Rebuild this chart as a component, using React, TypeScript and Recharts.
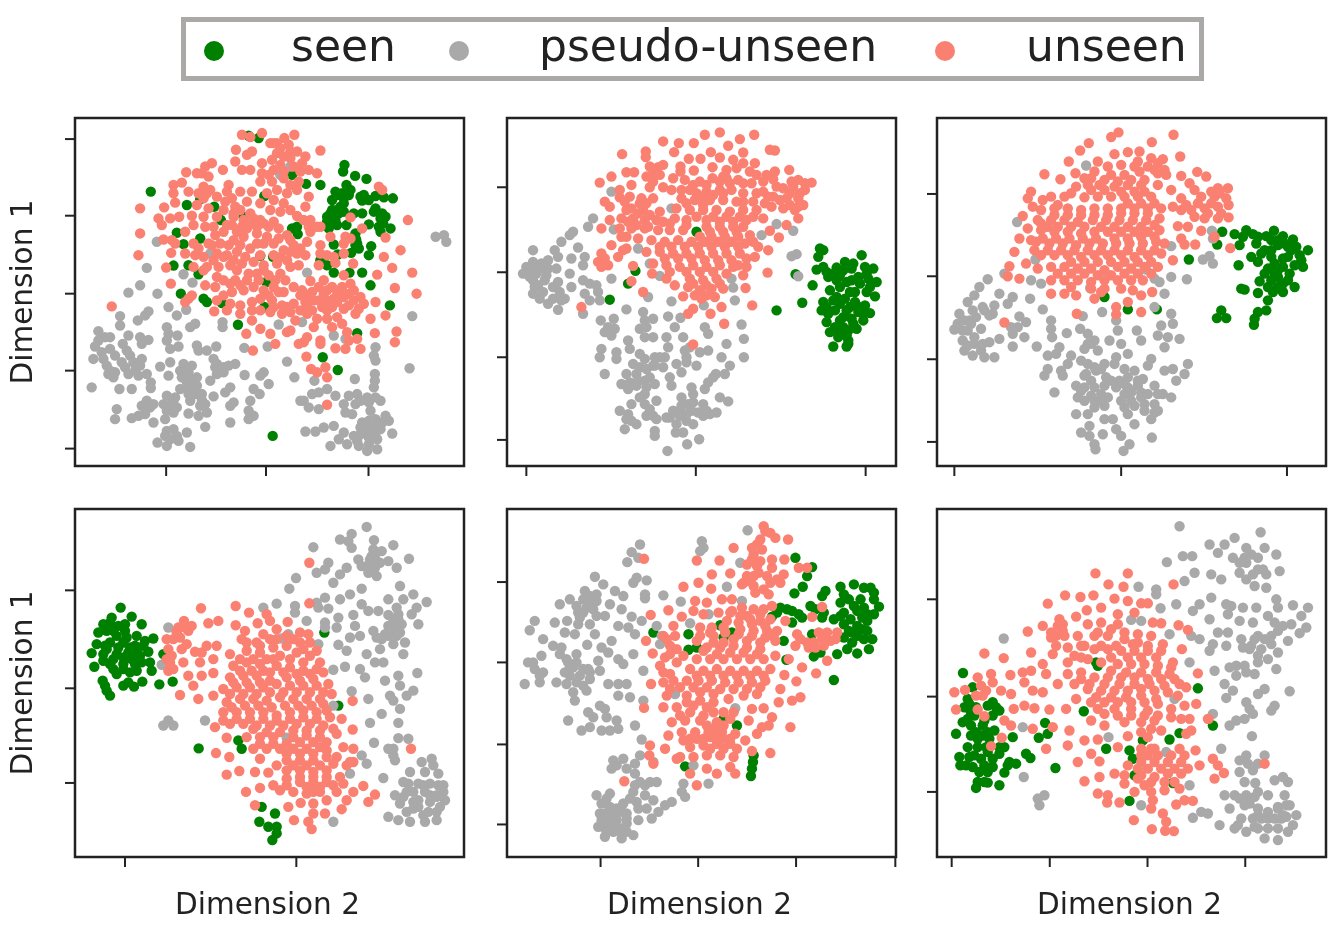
import { ScatterChart, Scatter, XAxis, YAxis, ZAxis, ReferenceArea } from 'recharts';

type Pair = [number, number];

// no scale is printed on the axes, so values are in units read off the picture
const seen1: Pair[] = [[272,245],[380,285],[350,368],[370,402],[340,466],[385,465],[415,492],[362,550],[430,565],[440,575],[485,578],[533,643],[637,975],[787,740],[832,778],[890,668],[988,585],[930,525],[905,487],[867,487],[820,487],[780,450],[800,465],[832,433],[872,428],[925,435],[895,415],[932,408],[820,403],[885,370],[887,388],[990,355],[960,365],[968,340],[975,320],[905,310],[925,343],[858,345],[945,295],[910,255],[905,272],[945,258],[970,262],[997,265],[918,207],[884,198],[852,165],[848,185],[858,225],[825,245],[815,270],[850,265],[865,255],[840,290],[815,300],[800,320],[820,320],[835,310],[812,340],[805,355],[710,350],[695,355],[712,372],[780,225],[737,222],[695,195],[612,258],[482,330],[638,440],[600,437],[618,515],[612,590],[595,85],[565,78],[420,268],[462,290],[550,320],[420,385],[830,255],[850,280],[870,240],[825,330],[830,345],[800,335],[810,310],[850,305],[880,310],[900,260],[925,270],[960,325],[955,350],[965,310],[940,305],[885,405],[890,400],[880,380],[830,300],[845,250]];
const pseudo1: Pair[] = [[1125,380],[1150,375],[1157,395],[290,395],[260,473],[240,525],[205,547],[292,550],[370,492],[397,517],[325,590],[378,598],[350,615],[265,603],[255,615],[233,630],[180,617],[180,645],[115,662],[135,680],[150,680],[205,675],[240,680],[265,688],[245,700],[188,700],[105,708],[125,725],[100,745],[130,745],[165,735],[140,765],[210,735],[220,755],[240,765],[195,770],[165,785],[160,800],[205,790],[235,795],[260,790],[272,815],[272,832],[178,835],[215,835],[95,830],[320,650],[325,670],[352,675],[320,690],[330,715],[355,708],[405,640],[390,650],[410,705],[415,720],[440,720],[468,708],[487,635],[487,650],[552,712],[622,708],[655,642],[300,768],[330,755],[325,795],[360,780],[395,765],[370,760],[365,800],[395,805],[410,825],[385,830],[360,835],[405,850],[425,868],[390,870],[460,745],[465,770],[490,770],[525,760],[505,765],[470,790],[450,810],[553,793],[610,785],[600,795],[625,820],[510,830],[495,845],[520,875],[510,885],[580,835],[598,850],[570,870],[565,900],[580,915],[565,925],[510,935],[460,857],[435,880],[440,905],[415,915],[385,908],[435,948],[320,855],[340,870],[350,890],[320,900],[315,925],[280,935],[260,870],[245,885],[270,890],[170,895],[165,925],[215,922],[235,915],[320,960],[350,975],[380,965],[355,990],[330,985],[292,995],[320,1005],[390,1008],[680,753],[702,800],[762,810],[883,805],[945,710],[940,735],[945,750],[943,790],[943,810],[1047,773],[1055,617],[820,675],[855,685],[740,487],[660,195],[690,170],[450,430],[725,635],[940,830],[960,870],[920,860],[890,850],[865,855],[850,880],[855,905],[875,910],[800,835],[775,845],[755,850],[730,870],[720,870],[745,890],[775,895],[825,855],[735,962],[765,962],[790,950],[820,945],[850,965],[835,985],[810,1005],[860,1000],[890,990],[915,965],[930,950],[905,935],[945,925],[985,930],[960,955],[995,968],[950,985],[925,1000],[895,1005],[920,1020],[950,1015],[150,715],[185,755],[225,780],[150,780],[245,745],[200,720],[385,785],[410,800],[380,815],[405,830],[425,850],[345,860],[330,885],[340,905],[310,880],[385,850],[420,885],[340,955],[315,975],[930,900],[945,860],[925,930],[915,945],[945,965],[965,935],[900,970],[880,975],[925,980],[900,950],[975,915],[940,940],[885,880],[900,870],[925,875],[470,760],[490,785],[280,880],[255,910],[145,790],[115,690]];
const unseen1: Pair[] = [[545,75],[570,82],[605,70],[630,100],[650,100],[672,85],[702,75],[685,105],[660,115],[690,125],[670,140],[710,125],[780,122],[527,120],[575,125],[560,135],[525,155],[605,160],[635,150],[660,165],[735,140],[725,160],[640,180],[700,170],[745,180],[770,190],[670,185],[545,180],[570,180],[605,190],[455,160],[435,170],[378,187],[410,190],[425,190],[488,180],[445,200],[340,225],[365,218],[385,245],[430,230],[450,240],[505,225],[540,245],[575,245],[635,215],[650,240],[715,215],[710,240],[745,260],[680,250],[560,275],[600,280],[670,280],[340,250],[345,278],[312,292],[240,295],[295,325],[305,345],[330,325],[357,320],[395,317],[410,285],[445,295],[430,320],[495,275],[515,265],[525,290],[490,300],[540,300],[570,310],[630,300],[660,305],[690,300],[735,290],[750,330],[710,318],[240,370],[235,435],[310,388],[335,390],[333,428],[318,472],[332,520],[375,430],[400,400],[415,415],[435,350],[460,350],[490,365],[515,345],[545,350],[575,340],[600,330],[625,350],[655,355],[680,375],[590,370],[550,380],[520,390],[480,400],[445,400],[430,440],[405,435],[470,430],[500,435],[530,425],[570,415],[610,400],[640,400],[670,420],[700,405],[740,395],[735,435],[710,430],[680,450],[650,460],[610,465],[580,455],[545,460],[510,465],[475,470],[440,470],[435,525],[465,530],[490,510],[525,510],[560,510],[590,490],[625,495],[660,490],[690,470],[715,465],[750,512],[640,530],[610,540],[580,530],[550,540],[515,545],[490,555],[470,570],[510,580],[540,585],[575,575],[600,565],[635,570],[670,545],[700,530],[725,540],[755,545],[790,510],[815,530],[850,495],[880,540],[845,530],[790,550],[820,565],[850,560],[880,570],[910,580],[945,575],[760,570],[735,575],[720,600],[755,600],[785,590],[815,590],[850,595],[885,610],[930,625],[975,615],[1003,533],[1068,550],[1055,487],[950,493],[995,473],[970,440],[1020,420],[975,382],[1042,330],[955,230],[965,240],[878,460],[855,380],[850,400],[905,355],[870,322],[810,380],[780,405],[780,430],[825,458],[775,465],[155,588],[385,565],[375,575],[395,555],[462,603],[575,630],[600,655],[630,605],[665,610],[690,605],[705,630],[740,610],[770,625],[800,625],[830,620],[860,665],[890,685],[900,715],[865,690],[855,715],[825,713],[780,690],[780,700],[740,680],[730,695],[715,700],[680,665],[690,660],[630,670],[558,670],[645,700],[578,720],[738,738],[752,775],[770,785],[795,770],[800,800],[800,882],[1008,663],[1003,695],[943,668],[520,320],[550,330],[580,325],[610,340],[640,335],[560,355],[590,350],[530,365],[500,345],[465,375],[505,405],[540,405],[590,400],[620,380],[655,385],[690,390],[720,415],[455,405],[490,440],[520,450],[555,440],[600,435],[640,435],[690,425],[660,440],[460,450],[530,480],[565,490],[610,480],[645,510],[675,510],[510,520],[540,525],[595,510],[625,555],[655,545],[600,600],[640,590],[665,585],[575,600],[540,610],[500,600],[720,555],[740,555],[775,530],[800,570],[830,545],[865,550],[870,520],[900,560],[775,570],[800,600],[830,575],[865,585],[895,595],[740,590],[800,540],[760,650],[815,650],[845,640],[700,580],[680,590],[440,250],[470,260],[500,245],[520,310],[470,320],[400,345],[375,365],[345,400],[430,265],[415,250],[620,250],[640,270],[690,225],[670,205],[625,195],[600,215],[690,145],[650,130],[640,100],[720,185],[730,330],[780,350],[770,350],[750,365],[745,350],[800,435],[850,430],[870,385],[820,440],[430,480],[470,500],[400,470]];

const seen2: Pair[] = [[620,365],[437,482],[415,520],[360,568],[860,600],[937,577],[917,492],[968,525],[990,415],[985,440],[980,478],[1000,470],[1115,435],[1065,455],[1040,472],[1015,500],[1050,495],[1085,475],[1125,470],[1150,475],[1105,500],[1135,505],[1160,515],[1020,540],[1070,515],[1050,530],[1095,545],[1130,545],[1155,558],[1000,575],[1030,570],[1065,565],[1095,575],[1125,585],[995,600],[1035,600],[1070,600],[1105,605],[1140,608],[1010,635],[1050,630],[1085,625],[1120,630],[1020,665],[1060,650],[1100,655],[1045,680],[1075,690],[1030,708],[1070,708],[1000,420],[1010,485],[1030,490],[1060,480],[1090,460],[1110,520],[1140,530],[1085,510],[1040,560],[1080,590],[1050,580],[1010,590],[1120,610],[1060,620],[1035,650],[1075,660],[1090,640],[1040,510],[1130,490],[1080,545],[1100,585],[1015,610],[1050,665],[1070,675],[1075,700]];
const pseudo2: Pair[] = [[130,420],[365,245],[545,295],[310,325],[295,350],[372,358],[250,365],[240,375],[215,395],[265,412],[195,420],[205,440],[285,440],[245,445],[130,455],[155,460],[110,470],[175,475],[200,475],[280,465],[100,490],[140,490],[240,490],[165,510],[130,510],[205,515],[280,510],[300,520],[320,525],[245,530],[130,550],[160,545],[210,545],[285,550],[325,545],[150,565],[175,580],[225,565],[300,570],[330,570],[205,598],[365,505],[280,610],[475,560],[410,597],[545,573],[510,497],[445,415],[480,460],[725,505],[730,532],[735,570],[642,585],[860,342],[910,362],[815,375],[905,438],[920,432],[925,498],[755,642],[762,685],[762,740],[535,618],[572,622],[555,650],[645,650],[655,670],[710,700],[695,740],[720,765],[705,790],[678,790],[655,815],[645,835],[605,830],[690,860],[715,872],[660,910],[680,905],[640,915],[628,985],[592,1000],[533,1020],[495,975],[495,960],[580,965],[558,965],[610,940],[540,920],[570,900],[595,880],[575,860],[610,875],[490,915],[470,915],[500,925],[440,940],[405,955],[415,910],[425,880],[390,900],[465,880],[500,870],[465,850],[440,825],[395,820],[420,815],[465,810],[495,820],[440,790],[410,790],[430,760],[465,745],[495,740],[525,740],[560,760],[590,740],[620,765],[655,720],[630,725],[600,710],[580,680],[530,680],[535,710],[575,785],[540,800],[545,825],[335,715],[330,740],[380,725],[380,745],[345,790],[333,630],[372,625],[345,665],[375,655],[415,690],[420,715],[460,605],[465,630],[490,625],[450,655],[490,680],[465,680],[530,920],[590,910],[625,905],[130,480],[150,475],[170,495],[120,500],[145,525],[135,530],[190,565],[215,570],[190,530],[450,770],[470,775],[490,765],[445,810],[470,830],[480,800],[415,835],[450,860],[480,895],[425,930],[410,925],[550,900],[575,885],[605,900],[590,930],[560,940],[610,850],[570,915],[640,880],[650,900],[450,730],[520,770],[495,765],[355,650],[365,675],[470,650],[510,740],[585,720],[590,755],[670,800],[175,450]];
const unseen2: Pair[] = [[645,75],[690,68],[793,75],[520,95],[567,100],[612,100],[715,108],[750,88],[840,120],[855,122],[397,133],[468,125],[468,142],[553,127],[663,127],[760,128],[597,147],[632,147],[690,143],[730,150],[760,160],[795,160],[520,165],[490,180],[505,172],[572,170],[572,185],[612,182],[668,172],[710,180],[740,175],[780,185],[800,195],[855,185],[898,180],[410,187],[433,187],[470,200],[495,195],[550,205],[585,210],[630,215],[668,205],[710,205],[745,210],[785,220],[820,215],[850,208],[925,210],[965,218],[330,218],[365,200],[425,225],[480,232],[520,232],[545,240],[600,240],[650,245],[690,240],[725,240],[760,250],[880,235],[910,230],[945,240],[390,240],[390,262],[345,275],[360,290],[420,260],[455,265],[490,265],[575,265],[615,270],[660,270],[700,270],[740,275],[820,245],[850,260],[890,265],[925,265],[940,285],[425,295],[460,300],[510,305],[560,295],[600,300],[640,300],[680,300],[720,305],[760,300],[800,300],[845,290],[880,295],[915,300],[925,325],[335,355],[360,330],[395,325],[430,325],[465,330],[520,335],[555,325],[590,330],[650,330],[690,335],[730,335],[770,330],[820,325],[890,345],[840,362],[867,382],[390,355],[425,355],[465,355],[505,360],[540,360],[580,360],[660,365],[700,365],[740,365],[780,375],[410,380],[365,405],[445,385],[485,390],[525,395],[565,390],[605,395],[645,395],[685,395],[725,395],[765,400],[805,410],[835,420],[400,420],[410,415],[385,440],[335,430],[325,455],[355,465],[470,425],[510,425],[550,430],[590,430],[630,430],[670,430],[710,430],[750,430],[795,440],[430,467],[425,513],[487,490],[460,545],[490,460],[530,465],[570,470],[610,465],[650,470],[690,465],[730,470],[770,470],[833,487],[530,505],[555,525],[600,505],[640,510],[680,505],[760,495],[767,533],[595,530],[630,540],[665,535],[700,535],[580,558],[635,565],[675,560],[275,590],[610,595],[595,610],[662,610],[695,590],[787,585],[703,640],[610,702],[410,300],[445,310],[480,315],[440,345],[415,335],[475,350],[500,330],[450,280],[470,280],[405,275],[620,250],[640,285],[670,255],[700,250],[640,260],[590,280],[620,320],[670,320],[710,320],[750,320],[790,320],[650,350],[690,350],[730,350],[760,350],[590,345],[540,340],[630,380],[665,380],[705,380],[745,380],[790,395],[545,410],[585,410],[625,410],[665,410],[705,410],[745,410],[510,410],[525,445],[565,445],[605,445],[645,450],[685,450],[725,450],[770,445],[540,485],[590,485],[630,485],[670,485],[710,490],[745,465],[610,520],[650,525],[690,520],[650,555],[615,555],[860,230],[835,260],[900,250],[930,250],[900,285],[870,270],[925,290],[905,215],[945,220],[830,195],[760,220],[800,250],[790,275],[760,275],[825,280],[690,215],[650,225],[610,225],[575,240],[700,200],[720,220],[395,380],[345,445],[335,470],[490,215],[510,195],[480,170]];

const seen3: Pair[] = [[540,560],[610,597],[697,597],[893,365],[878,403],[930,372],[965,360],[985,372],[945,405],[995,400],[1025,378],[1048,362],[1075,378],[1105,388],[1020,420],[1060,405],[1090,410],[1150,420],[1125,435],[980,440],[1000,455],[1040,440],[1075,445],[1110,465],[1135,470],[942,465],[1030,475],[1060,480],[1095,490],[1040,510],[1005,513],[1075,520],[1110,530],[950,535],[960,538],[1000,548],[1045,545],[1075,545],[1030,570],[1025,600],[1000,605],[990,625],[988,643],[890,600],[877,623],[905,623],[793,448],[1060,390],[1080,400],[1100,420],[1040,420],[1010,430],[1050,460],[1090,440],[1130,450],[1020,490],[1060,500],[1090,510],[1100,400],[1115,410],[1075,470],[1050,490],[1030,530],[1060,530],[1040,390],[955,380],[1000,380]];
const pseudo3: Pair[] = [[485,167],[278,336],[333,448],[862,362],[865,385],[740,408],[835,448],[855,437],[865,460],[740,500],[787,507],[720,550],[665,478],[690,505],[705,515],[190,507],[165,530],[150,555],[130,575],[225,550],[265,560],[250,580],[210,585],[175,590],[145,600],[105,610],[285,618],[195,615],[135,630],[260,650],[305,635],[90,657],[130,660],[170,655],[300,680],[265,670],[225,685],[115,690],[150,700],[195,695],[265,708],[120,720],[170,720],[145,735],[180,740],[210,740],[240,490],[320,510],[350,520],[317,565],[355,597],[497,533],[533,605],[575,630],[475,617],[380,630],[380,655],[383,680],[337,708],[427,668],[467,655],[490,670],[510,690],[480,715],[520,720],[580,660],[555,690],[590,700],[610,730],[637,660],[650,690],[740,610],[745,640],[710,645],[700,675],[765,685],[720,710],[730,680],[405,710],[395,730],[370,735],[440,735],[470,750],[370,775],[360,795],[410,780],[415,795],[390,845],[575,740],[570,760],[540,760],[515,780],[480,795],[455,825],[500,810],[545,800],[600,775],[630,780],[655,805],[680,745],[670,765],[720,780],[745,775],[790,760],[780,790],[755,810],[690,825],[460,860],[500,855],[530,850],[575,830],[600,820],[620,845],[650,845],[590,870],[540,885],[510,890],[455,910],[490,910],[740,860],[715,850],[690,880],[660,880],[630,885],[700,900],[680,925],[610,910],[630,940],[540,925],[565,925],[575,955],[590,975],[495,945],[470,965],[495,975],[535,970],[510,1000],[513,1015],[615,1000],[597,1020],[682,980],[690,590],[140,640],[120,630],[155,620],[180,600],[205,610],[115,660],[100,640],[130,705],[150,680],[175,700],[280,650],[485,790],[510,770],[530,775],[480,830],[510,830],[540,825],[470,840],[610,800],[640,810],[600,850],[620,870],[650,860],[670,850],[640,825],[660,900],[510,870],[480,870],[550,860],[530,870],[490,700],[500,700],[585,810],[610,830],[560,810],[490,760],[430,760],[600,890],[690,905],[700,850]];
const unseen3: Pair[] = [[582,68],[560,82],[747,75],[682,97],[493,100],[467,122],[570,133],[610,127],[645,125],[767,140],[433,155],[520,155],[590,165],[640,155],[680,145],[715,148],[360,193],[408,208],[453,190],[510,185],[560,195],[600,195],[645,185],[690,180],[725,195],[770,198],[818,186],[845,200],[795,220],[455,230],[490,225],[525,225],[570,230],[610,225],[650,225],[700,225],[740,240],[810,240],[880,235],[910,235],[320,245],[310,265],[380,260],[420,260],[480,262],[520,260],[560,260],[600,260],[640,260],[680,260],[770,265],[830,260],[870,260],[905,265],[325,290],[350,300],[390,295],[430,295],[470,300],[510,295],[550,295],[590,295],[630,295],[670,295],[710,295],[745,290],[785,285],[840,295],[880,290],[912,285],[295,318],[340,330],[380,330],[420,330],[460,335],[505,330],[545,330],[585,330],[625,330],[665,330],[705,325],[810,320],[840,325],[880,325],[912,322],[310,355],[350,360],[390,365],[430,365],[470,370],[510,365],[550,365],[590,365],[630,365],[670,365],[705,360],[760,348],[790,350],[830,362],[870,380],[285,385],[335,395],[375,400],[415,400],[455,405],[495,400],[535,400],[575,400],[615,400],[655,400],[695,395],[770,385],[780,403],[812,403],[917,414],[270,425],[305,460],[350,435],[390,435],[430,435],[470,440],[510,435],[550,435],[590,435],[630,440],[670,435],[710,430],[745,450],[255,468],[250,498],[285,505],[340,475],[380,470],[420,470],[460,475],[500,475],[540,480],[580,470],[620,475],[660,470],[700,470],[380,510],[420,510],[460,510],[500,515],[540,510],[580,510],[620,510],[655,510],[380,550],[420,550],[455,555],[510,565],[530,545],[575,590],[650,555],[610,575],[683,545],[650,605],[575,612],[457,610],[240,636],[630,245],[660,245],[610,280],[650,280],[690,280],[670,310],[630,310],[590,310],[550,315],[510,315],[470,315],[430,315],[390,315],[350,340],[370,350],[400,350],[440,350],[480,350],[530,350],[570,350],[610,350],[650,350],[690,345],[690,380],[650,380],[610,385],[570,385],[515,385],[475,385],[435,385],[395,385],[355,385],[320,390],[330,420],[370,420],[410,420],[450,420],[490,420],[530,420],[570,420],[610,420],[650,420],[690,420],[720,400],[440,455],[480,455],[520,455],[560,455],[600,455],[640,455],[680,455],[400,490],[440,490],[480,490],[520,495],[560,495],[600,490],[640,490],[680,490],[500,535],[540,535],[440,530],[590,535],[625,540],[860,245],[885,250],[860,280],[890,310],[850,310],[820,280],[770,300],[800,300],[700,190],[660,210],[620,210],[580,215],[540,210],[500,205],[670,170],[700,160],[720,180],[630,170],[550,170],[480,205],[440,250],[400,285],[355,270],[500,240],[540,240],[590,245]];

const seen4: Pair[] = [[182,325],[155,355],[215,352],[245,375],[130,375],[115,400],[160,395],[195,395],[230,410],[280,418],[110,435],[150,430],[190,430],[225,440],[255,425],[95,462],[130,465],[170,465],[205,460],[240,470],[265,458],[310,465],[103,503],[150,495],[190,495],[225,495],[270,490],[170,525],[210,520],[275,515],[128,545],[135,560],[140,575],[150,590],[190,560],[205,550],[222,563],[247,548],[298,556],[338,548],[793,400],[835,620],[535,725],[545,750],[416,749],[605,925],[645,945],[598,970],[625,985],[650,985],[650,1005],[637,1025],[140,395],[175,380],[200,415],[170,410],[140,450],[175,445],[210,445],[150,370],[230,455],[190,475],[215,480],[160,480],[130,485],[135,440],[245,490],[250,440],[190,510],[230,515],[195,375],[160,510]];
const pseudo4: Pair[] = [[920,82],[875,103],[840,120],[865,125],[875,145],[942,122],[1000,137],[760,143],[940,150],[965,155],[1047,178],[895,180],[930,180],[985,185],[805,190],[770,220],[795,210],[1010,205],[860,205],[840,225],[925,220],[950,230],[708,236],[820,250],[905,268],[688,268],[1020,260],[1060,285],[870,285],[840,300],[795,295],[770,310],[650,313],[610,325],[985,300],[1030,300],[705,320],[705,340],[1100,308],[905,315],[775,325],[805,328],[1070,325],[925,335],[955,335],[1010,325],[1055,345],[880,347],[835,355],[985,347],[740,365],[795,370],[1075,375],[830,385],[885,380],[985,380],[325,385],[685,405],[665,418],[795,385],[940,395],[870,415],[900,410],[1025,375],[965,420],[835,437],[860,455],[775,435],[1000,435],[1035,430],[920,465],[960,450],[1030,465],[855,503],[820,512],[900,510],[945,490],[915,535],[970,490],[1072,522],[1015,530],[975,545],[1020,560],[875,577],[925,600],[990,590],[1060,575],[1040,590],[1000,605],[1020,630],[820,620],[965,645],[930,672],[1015,672],[325,665],[310,680],[340,680],[435,665],[680,717],[942,732],[1015,718],[1000,750],[905,770],[920,795],[1005,785],[1045,720],[1050,820],[1085,790],[1115,780],[1135,825],[970,838],[1030,850],[1075,855],[1135,860],[1005,890],[1040,880],[1095,880],[1150,880],[1020,915],[1060,910],[1110,910],[1155,905],[985,955],[1015,965],[1050,970],[1040,940],[1095,970],[1130,965],[1140,925],[820,970],[305,497],[870,825],[945,175],[960,190],[920,200],[945,205],[905,200],[1000,360],[1015,345],[1015,360],[975,405],[950,415],[985,410],[1000,405],[1020,400],[1090,860],[1110,855],[1110,890],[1130,895],[1075,905],[1060,930],[1130,890],[1150,860],[1095,820],[1120,800],[1030,895],[1060,880],[1045,855],[1105,940],[1090,950],[1075,925],[1130,940],[1000,770],[985,750],[925,205],[935,170],[1010,410],[1000,380]];
const unseen4: Pair[] = [[423,327],[527,320],[567,340],[620,345],[630,365],[372,365],[445,372],[475,365],[527,378],[593,372],[683,368],[355,385],[385,395],[555,395],[610,405],[650,390],[720,400],[745,405],[320,420],[360,415],[405,458],[440,440],[470,440],[545,420],[590,430],[630,420],[700,420],[325,450],[365,450],[510,465],[560,455],[600,460],[640,445],[680,440],[730,450],[770,455],[330,490],[370,490],[420,490],[460,480],[520,500],[560,490],[600,495],[640,480],[690,480],[730,490],[780,490],[325,515],[385,530],[425,530],[460,522],[510,535],[550,530],[590,530],[630,520],[670,520],[710,525],[750,525],[790,520],[400,560],[360,588],[415,600],[460,590],[490,570],[530,565],[570,565],[610,565],[650,555],[690,560],[730,560],[770,560],[805,555],[500,610],[540,600],[580,600],[620,605],[660,595],[700,600],[740,600],[780,600],[815,585],[878,606],[490,640],[530,640],[570,640],[610,640],[650,650],[690,640],[730,635],[770,640],[800,635],[465,685],[510,675],[550,675],[590,680],[630,680],[670,680],[710,675],[750,675],[790,680],[845,660],[878,692],[820,690],[500,717],[560,715],[600,715],[640,715],[700,715],[740,710],[780,715],[830,705],[580,750],[620,750],[660,750],[700,750],[740,750],[780,745],[850,745],[880,750],[468,763],[508,775],[600,780],[680,785],[720,785],[760,785],[800,775],[830,775],[860,800],[880,790],[650,800],[500,828],[538,817],[585,820],[625,822],[680,815],[720,815],[760,820],[800,815],[840,835],[640,860],[680,860],[720,850],[760,850],[800,850],[850,855],[558,880],[600,868],[660,875],[700,880],[740,885],[780,880],[830,880],[880,880],[910,862],[945,888],[925,910],[585,920],[685,925],[722,913],[760,915],[800,905],[860,905],[845,932],[760,945],[795,945],[702,965],[745,970],[755,992],[748,190],[748,312],[1053,750],[350,395],[375,385],[395,380],[340,420],[380,435],[425,460],[560,430],[600,440],[650,420],[680,410],[720,430],[750,430],[540,480],[580,480],[620,480],[660,470],[710,460],[750,470],[540,515],[575,515],[610,515],[650,500],[690,505],[730,515],[770,510],[520,550],[560,550],[600,550],[630,545],[680,535],[720,545],[760,540],[510,585],[550,585],[590,585],[630,580],[670,580],[710,580],[750,580],[790,580],[515,625],[555,620],[595,620],[635,625],[675,620],[715,620],[755,620],[790,615],[490,665],[530,660],[570,660],[610,660],[650,665],[690,660],[730,655],[770,660],[810,655],[580,690],[620,700],[660,700],[700,695],[740,695],[780,695],[600,735],[640,735],[680,735],[720,730],[760,730],[800,730],[680,765],[720,765],[760,765],[800,755],[700,800],[740,800],[780,800],[820,795],[760,835],[720,835],[800,835],[680,840],[740,865],[780,865],[820,860],[870,790],[335,470],[340,510],[320,480],[350,400],[760,880]];

const seen5: Pair[] = [[490,400],[595,405],[595,452],[620,445],[690,378],[725,400],[700,415],[740,680],[700,660],[585,803],[790,770],[788,790],[785,810],[782,832],[915,175],[965,203],[950,230],[937,262],[912,282],[1005,275],[995,290],[1050,262],[1090,255],[1120,265],[1150,280],[1110,300],[1150,300],[1165,322],[1050,310],[960,320],[870,325],[845,352],[905,335],[935,355],[995,355],[1060,340],[1100,335],[1150,345],[1130,365],[1060,375],[1100,380],[1030,360],[905,370],[1100,410],[1145,420],[1060,415],[965,405],[880,425],[1135,450],[1100,463],[1070,450],[1040,465],[970,472],[990,460],[1030,543],[888,482],[1075,300],[1090,320],[1120,325],[1130,345],[1080,360],[1115,355],[1115,390],[1085,400],[1130,395],[1075,395],[1120,420],[1085,430],[1140,265],[1060,285],[925,345],[890,330],[860,340],[1000,340],[1050,350],[975,330]];
const pseudo5: Pair[] = [[772,92],[450,135],[635,125],[640,145],[630,155],[425,158],[412,188],[445,175],[750,190],[315,232],[440,235],[470,243],[430,250],[340,255],[285,275],[375,275],[320,285],[400,290],[465,285],[465,297],[520,288],[572,307],[755,305],[710,262],[240,300],[210,315],[260,320],[300,310],[360,315],[395,330],[280,340],[320,350],[345,350],[425,352],[455,365],[655,345],[600,372],[135,365],[120,393],[195,370],[232,365],[265,375],[300,375],[385,380],[225,400],[255,405],[315,405],[415,385],[435,405],[500,380],[515,410],[510,435],[160,420],[190,440],[215,445],[292,437],[365,425],[335,445],[210,465],[260,465],[355,460],[430,465],[155,470],[115,490],[235,490],[325,485],[385,480],[400,495],[135,510],[160,520],[295,510],[330,515],[240,530],[270,530],[460,515],[105,555],[150,550],[200,550],[230,555],[300,540],[355,555],[385,555],[410,555],[250,580],[290,575],[385,590],[420,595],[460,605],[255,605],[330,620],[345,630],[295,640],[310,655],[235,665],[350,655],[380,665],[435,680],[275,695],[300,685],[335,695],[360,695],[385,690],[455,722],[450,770],[555,585],[735,628],[370,785],[400,780],[435,795],[365,810],[435,825],[490,790],[480,850],[500,850],[465,860],[580,855],[575,880],[585,895],[655,855],[610,800],[545,910],[525,920],[505,940],[320,890],[360,885],[430,880],[465,890],[490,905],[335,915],[400,915],[440,910],[470,930],[330,945],[370,945],[410,945],[445,965],[485,960],[340,985],[325,985],[375,985],[410,975],[430,1010],[345,1015],[395,1020],[370,1000],[280,300],[300,290],[320,305],[290,325],[265,340],[310,330],[270,355],[230,480],[260,490],[280,510],[250,505],[300,520],[260,550],[280,560],[240,505],[225,520],[130,490],[150,530],[360,925],[380,930],[395,940],[350,960],[380,965],[410,960],[360,975],[390,990],[350,1000],[410,1000],[395,1005],[335,965],[380,800],[410,810],[435,860],[450,850],[420,900],[445,930],[350,900],[345,945]];
const unseen5: Pair[] = [[820,80],[840,100],[810,120],[855,115],[893,120],[785,145],[730,145],[815,150],[620,183],[688,183],[462,178],[785,180],[810,185],[845,180],[882,180],[665,225],[720,222],[770,230],[805,220],[845,205],[880,225],[925,205],[950,205],[580,262],[625,250],[663,268],[755,255],[790,260],[840,250],[870,250],[795,280],[835,285],[615,305],[650,310],[695,300],[725,300],[755,325],[845,320],[535,333],[482,347],[575,352],[610,335],[640,345],[685,340],[725,335],[770,350],[810,345],[995,323],[965,353],[885,365],[550,380],[630,385],[665,385],[710,365],[745,370],[785,375],[825,380],[860,395],[520,410],[555,410],[630,410],[670,410],[705,400],[745,405],[785,410],[825,415],[855,425],[468,425],[920,405],[930,420],[985,400],[1010,400],[1035,420],[915,440],[955,445],[1000,440],[540,440],[580,470],[650,445],[690,445],[730,440],[770,445],[810,450],[488,463],[525,475],[560,490],[620,480],[660,480],[700,480],[740,480],[780,480],[820,480],[855,470],[895,480],[935,505],[1010,485],[510,500],[600,510],[640,515],[680,510],[720,515],[760,515],[800,515],[840,510],[882,528],[977,523],[483,555],[520,550],[550,545],[590,545],[625,545],[665,545],[705,550],[745,550],[785,550],[825,545],[918,547],[530,590],[590,590],[630,580],[670,585],[715,600],[760,590],[800,585],[870,570],[930,595],[905,605],[462,627],[520,625],[560,625],[610,620],[650,625],[700,640],[785,630],[820,628],[865,610],[545,670],[585,665],[630,665],[680,670],[720,660],[775,665],[845,655],[535,710],[575,700],[615,700],[655,700],[695,700],[735,705],[815,685],[835,680],[900,685],[480,740],[525,750],[560,780],[600,745],[640,740],[680,735],[720,735],[765,725],[800,705],[478,770],[490,795],[570,775],[610,775],[650,770],[690,770],[730,775],[785,757],[840,763],[600,825],[650,810],[680,825],[720,805],[735,825],[620,860],[403,848],[825,95],[800,135],[790,165],[770,195],[800,200],[760,250],[780,245],[790,230],[820,270],[830,230],[860,240],[720,340],[750,350],[790,330],[820,330],[780,360],[810,365],[840,360],[750,390],[790,395],[830,395],[700,385],[660,400],[730,420],[770,425],[810,430],[850,410],[700,430],[670,430],[620,425],[640,455],[680,465],[720,460],[760,460],[800,465],[540,465],[560,450],[530,420],[520,520],[540,525],[620,530],[660,530],[700,530],[740,530],[780,530],[820,530],[570,565],[610,565],[650,565],[690,570],[730,570],[770,570],[810,565],[540,570],[590,610],[630,605],[670,610],[730,640],[570,650],[600,640],[640,650],[670,640],[700,680],[680,700],[660,715],[700,720],[640,720],[620,720],[680,715],[720,720],[660,750],[700,750],[740,750],[600,720],[580,725],[670,690],[650,680],[690,690],[1020,425],[995,420],[970,430],[975,445],[950,430],[1040,400]];

const seen6: Pair[] = [[116,522],[145,565],[130,600],[120,625],[205,610],[225,635],[155,625],[205,650],[115,670],[95,705],[140,680],[175,680],[210,695],[130,745],[160,720],[195,720],[265,715],[240,745],[105,775],[150,770],[190,760],[225,765],[108,800],[145,805],[180,800],[205,805],[255,790],[275,795],[240,822],[160,850],[190,852],[225,860],[155,868],[305,765],[318,778],[393,808],[343,717],[370,705],[362,672],[515,490],[520,500],[478,637],[545,750],[615,755],[625,780],[630,830],[655,725],[735,722],[765,703],[745,853],[615,907],[820,568],[865,680],[130,625],[140,640],[130,660],[150,650],[190,620],[215,625],[155,700],[175,710],[140,710],[160,745],[185,745],[135,775],[170,780],[205,780],[125,800],[165,820],[190,820],[225,745],[135,615],[190,700],[180,665],[250,800],[180,850]];
const pseudo6: Pair[] = [[765,80],[1008,98],[930,115],[855,135],[900,135],[965,145],[1020,145],[880,160],[925,175],[1055,165],[775,170],[803,170],[727,188],[1000,175],[965,190],[1065,215],[810,220],[860,225],[890,240],[780,245],[945,220],[1025,225],[965,240],[642,262],[695,270],[695,285],[990,260],[1025,265],[860,295],[1055,300],[825,315],[755,315],[708,327],[905,315],[920,320],[1105,318],[1150,325],[805,335],[910,345],[955,325],[995,325],[1060,325],[1130,350],[620,362],[650,365],[855,360],[945,365],[1030,350],[1100,375],[985,370],[1145,385],[1125,402],[735,405],[800,410],[825,420],[880,400],[910,400],[1060,395],[1090,425],[865,435],[855,455],[905,440],[950,420],[990,420],[1040,435],[1010,450],[1060,460],[795,490],[870,515],[915,505],[960,500],[1000,490],[1055,510],[900,555],[935,530],[990,525],[925,575],[905,597],[1020,570],[1000,585],[1095,577],[750,600],[965,610],[1050,620],[975,630],[1040,635],[295,685],[865,645],[960,660],[915,680],[935,665],[985,645],[982,712],[552,715],[890,750],[725,760],[238,418],[965,770],[945,785],[1020,770],[1000,795],[945,820],[960,850],[298,835],[992,853],[1050,845],[1090,850],[1075,835],[360,890],[340,900],[345,920],[795,860],[900,890],[930,890],[965,890],[1030,890],[1080,890],[915,930],[975,915],[1000,930],[1060,925],[1095,920],[830,940],[850,945],[805,958],[885,980],[930,990],[965,1000],[985,960],[1030,960],[1070,960],[1115,950],[1105,980],[1060,990],[1020,1020],[1060,1025],[650,920],[1000,990],[1090,1000],[960,175],[980,165],[1000,210],[985,225],[1015,210],[945,190],[1000,410],[1020,420],[980,440],[1040,410],[975,450],[955,445],[1000,470],[1030,480],[935,500],[965,520],[1075,380],[1050,370],[1060,930],[1050,960],[1030,940],[1075,950],[1010,960],[1000,950],[960,920],[945,900],[990,895],[990,985],[1030,990],[950,960],[1085,955],[1085,920],[970,795],[985,815],[1000,880],[940,980]];
const unseen6: Pair[] = [[513,222],[610,222],[552,255],[597,262],[747,255],[422,288],[468,293],[507,288],[570,298],[610,305],[650,312],[670,312],[370,313],[530,325],[487,333],[630,340],[455,352],[580,345],[405,360],[355,380],[415,375],[490,375],[530,370],[580,375],[685,370],[710,372],[762,378],[790,392],[310,397],[380,415],[420,410],[460,410],[510,410],[550,410],[600,400],[640,405],[680,410],[320,460],[385,465],[430,445],[480,440],[530,440],[575,440],[625,435],[670,440],[715,435],[772,450],[180,463],[238,477],[355,495],[430,490],[470,475],[560,475],[610,475],[650,475],[695,475],[745,490],[295,520],[320,515],[258,528],[365,525],[430,525],[470,520],[560,515],[605,520],[650,520],[695,520],[735,525],[820,523],[160,535],[200,525],[205,550],[300,550],[400,555],[450,555],[495,555],[540,555],[585,555],[630,555],[675,555],[720,560],[765,555],[90,580],[122,573],[175,590],[230,575],[260,585],[325,575],[355,580],[455,600],[515,595],[560,595],[605,595],[650,590],[695,600],[785,565],[815,615],[95,632],[160,632],[180,652],[268,630],[300,620],[330,628],[375,632],[425,630],[520,630],[570,630],[620,630],[670,635],[740,630],[780,620],[240,665],[260,680],[325,690],[385,685],[435,695],[500,665],[540,680],[600,670],[650,670],[690,665],[770,660],[850,660],[795,660],[232,717],[200,742],[430,740],[480,725],[520,722],[610,712],[670,715],[710,695],[785,705],[800,695],[365,750],[500,765],[580,745],[650,750],[690,750],[765,750],[813,755],[865,780],[460,790],[525,788],[650,790],[690,790],[730,790],[770,790],[825,800],[880,800],[898,823],[870,840],[525,835],[480,848],[570,825],[600,855],[650,830],[690,835],[730,825],[770,825],[1020,795],[520,885],[550,890],[630,880],[680,880],[720,875],[765,870],[548,912],[585,912],[685,905],[755,918],[780,905],[805,907],[680,930],[715,945],[628,965],[725,970],[682,992],[722,997],[748,998],[852,660],[520,400],[560,390],[600,420],[640,430],[470,440],[510,450],[550,450],[590,455],[630,455],[670,455],[710,455],[450,470],[490,480],[530,490],[580,495],[620,495],[660,495],[700,500],[740,505],[470,540],[510,535],[550,535],[590,535],[630,535],[670,540],[710,540],[750,540],[490,570],[530,575],[570,575],[610,575],[650,570],[690,575],[730,580],[760,590],[500,610],[540,610],[580,610],[620,610],[660,610],[700,615],[540,645],[580,650],[620,650],[660,650],[700,650],[740,655],[680,690],[650,700],[680,750],[650,770],[670,770],[700,770],[740,770],[780,770],[640,810],[670,810],[710,810],[750,810],[790,810],[610,800],[640,840],[680,850],[720,850],[750,850],[600,830],[660,860],[400,380],[380,400],[415,395],[395,440],[170,560],[185,575],[155,590],[395,410]];

const xTicks = [[318,617,924],[110,618,1127],[90,590,1087],[195,709],[332,624,917,1214],[82,376,669,962]];
const yTicks = [[88,317,550,780,1013],[232,486,740,987],[252,498,746,993],[273,568,853],[248,490,737,978],[300,593,880]];

const GREEN = '#008000';
const GRAY = '#a9a9a9';
const SALMON = '#fa8072';
const INK = '#222222';
const FONT = '"DejaVu Sans", sans-serif';

const PANELS = [
  { seen: seen1, pseudo: pseudo1, unseen: unseen1, xt: xTicks[0], yt: yTicks[0], left: 75, top: 118, xDom: [45, 1210], yDom: [25, 1065] },
  { seen: seen2, pseudo: pseudo2, unseen: unseen2, xt: xTicks[1], yt: yTicks[1], left: 507, top: 118, xDom: [52, 1218], yDom: [25, 1065] },
  { seen: seen3, pseudo: pseudo3, unseen: unseen3, xt: xTicks[2], yt: yTicks[2], left: 937, top: 118, xDom: [38, 1204], yDom: [25, 1065] },
  { seen: seen4, pseudo: pseudo4, unseen: unseen4, xt: xTicks[3], yt: yTicks[3], left: 75, top: 509, xDom: [45, 1212], yDom: [28, 1076] },
  { seen: seen5, pseudo: pseudo5, unseen: unseen5, xt: xTicks[4], yt: yTicks[4], left: 507, top: 509, xDom: [52, 1216], yDom: [28, 1076] },
  { seen: seen6, pseudo: pseudo6, unseen: unseen6, xt: xTicks[5], yt: yTicks[5], left: 937, top: 509, xDom: [38, 1204], yDom: [28, 1076] },
];

const LEGEND = [
  { label: 'seen', color: GREEN, dot: 214, text: 291 },
  { label: 'pseudo-unseen', color: GRAY, dot: 459, text: 539 },
  { label: 'unseen', color: SALMON, dot: 945, text: 1026 },
];

// z only exists so ZAxis applies its range to every dot
const toPoints = (pairs: Pair[]) => pairs.map(([x, y]) => ({ x, y, z: 1 }));
const blank = () => '';

function Panel({ panel, index }: { panel: (typeof PANELS)[number]; index: number }) {
  const { seen, pseudo, unseen, xt, yt, left, top, xDom, yDom } = panel;
  const isBottom = index >= 3;
  const isLeft = index % 3 === 0;
  return (
    <div style={{ position: 'absolute', left: left - 75, top: top - 5 }}>
      <ScatterChart width={389 + 80} height={348 + 5 + 65} margin={{ top: 5, right: 5, left: 0, bottom: 0 }}>
        <XAxis
          type="number"
          dataKey="x"
          domain={xDom}
          ticks={xt}
          interval={0}
          height={65}
          tickSize={10}
          tickFormatter={blank}
          allowDataOverflow
          stroke={INK}
          strokeWidth={2}
          label={isBottom ? { value: 'Dimension 2', position: 'insideBottom', offset: 8, dx: -2, fill: INK, fontSize: 29.5, fontFamily: FONT } : undefined}
        />
        <YAxis
          type="number"
          dataKey="y"
          domain={yDom}
          reversed
          ticks={yt}
          interval={0}
          width={75}
          tickSize={10}
          tickFormatter={blank}
          allowDataOverflow
          stroke={INK}
          strokeWidth={2}
          label={isLeft ? { value: 'Dimension 1', angle: -90, position: 'insideLeft', offset: 22, fill: INK, fontSize: 29.5, fontFamily: FONT, style: { textAnchor: 'middle' } } : undefined}
        />
        <ZAxis type="number" dataKey="z" range={[85, 85]} />
        <Scatter data={toPoints(seen)} fill={GREEN} isAnimationActive={false} />
        <Scatter data={toPoints(pseudo)} fill={GRAY} isAnimationActive={false} />
        <Scatter data={toPoints(unseen)} fill={SALMON} isAnimationActive={false} />
        <ReferenceArea x1={xDom[0]} x2={xDom[1]} y1={yDom[0]} y2={yDom[1]} fill="none" stroke={INK} strokeWidth={2.5} />
      </ScatterChart>
    </div>
  );
}

export default function App() {
  return (
    <div style={{ position: 'absolute', left: 0, top: 0, width: 1341, height: 926, background: '#fff', overflow: 'hidden', filter: 'blur(0.5px)' }}>
      <div style={{ position: 'absolute', left: 181, top: 17, width: 1023, height: 64, boxSizing: 'border-box', border: '5px solid #aba8a8' }} />
      {LEGEND.map(({ label, color, dot, text }) => (
        <div key={label}>
          <div style={{ position: 'absolute', left: dot - 10, top: 41, width: 20, height: 20, borderRadius: '50%', background: color }} />
          <div style={{ position: 'absolute', left: text, top: 21, fontFamily: FONT, fontSize: 44, lineHeight: '50px', color: '#222' }}>{label}</div>
        </div>
      ))}
      {PANELS.map((panel, i) => (
        <Panel key={i} panel={panel} index={i} />
      ))}
    </div>
  );
}
